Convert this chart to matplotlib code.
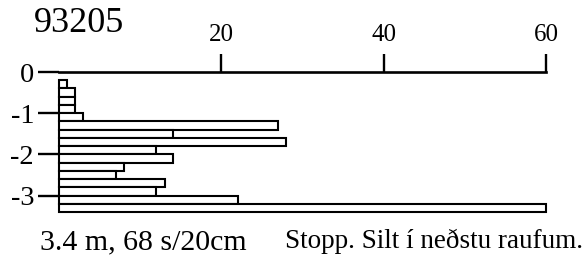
import matplotlib
matplotlib.use("Agg")
import matplotlib.pyplot as plt

# Data
depth_top = [0.2, 0.4, 0.6, 0.8, 1.0, 1.2, 1.4, 1.6, 1.8, 2.0, 2.2, 2.4, 2.6, 2.8, 3.0, 3.2]
strokes = [1, 2, 2, 2, 3, 27, 14, 28, 12, 14, 8, 7, 13, 12, 22, 60]
layer = 0.2
x_ticks = [20, 40, 60]
y_ticks = [0, -1, -2, -3]
title = "93205"
note_left = "3.4 m, 68 s/20cm"
note_right = "Stopp. Silt í neðstu raufum."

plt.rcParams['font.family'] = ['Liberation Serif', 'DejaVu Serif']

W, H = 582, 262
fig = plt.figure(figsize=(W / 100, H / 100), dpi=100)
fig.patch.set_facecolor('white')

ax_l, ax_r, ax_t, ax_b = 59, 546, 72, 212
ax = fig.add_axes([ax_l / W, 1 - ax_b / H, (ax_r - ax_l) / W, (ax_b - ax_t) / H])

centers = [-(d + layer / 2) for d in depth_top]
ax.barh(centers, strokes, height=layer, left=0, facecolor='white',
        edgecolor='black', linewidth=1.5, clip_on=False)

ax.set_xlim(0, 60)
ax.set_ylim(-3.4, 0)

for s in ['left', 'right', 'bottom']:
    ax.spines[s].set_visible(False)
ax.spines['top'].set_linewidth(1.9)

ax.xaxis.tick_top()
ax.set_xticks(x_ticks)
ax.set_xticklabels([str(v) for v in x_ticks], fontsize=18)
ax.tick_params(axis='x', direction='out', length=13, width=1.7, pad=6)

ax.set_yticks(y_ticks)
ax.set_yticklabels([str(v) for v in y_ticks], fontsize=20.5)
ax.tick_params(axis='y', direction='out', length=15, width=1.7, pad=3)

fig.text(34 / W, 1 - 7 / H, title, fontsize=26, ha='left', va='top')
fig.text(40 / W, 1 - 249 / H, note_left, fontsize=21.5, ha='left', va='baseline')
fig.text(285 / W, 1 - 248 / H, note_right, fontsize=19.5, ha='left', va='baseline')

fig.savefig("out.png", dpi=100, facecolor='white')
